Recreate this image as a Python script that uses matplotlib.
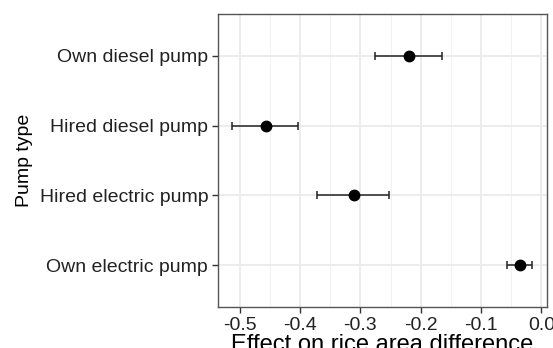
import numpy as np
import matplotlib.pyplot as plt
from matplotlib.ticker import MultipleLocator

plt.rcParams['font.family'] = ['Liberation Sans', 'DejaVu Sans']

# pump types, bottom to top
pumps = ['Own electric pump', 'Hired electric pump', 'Hired diesel pump', 'Own diesel pump']
effect = [-0.036, -0.311, -0.457, -0.220]
lower = [-0.057, -0.372, -0.512, -0.275]
upper = [-0.015, -0.253, -0.404, -0.165]

fig = plt.figure(figsize=(5.53, 3.48), dpi=100)
ax = fig.add_axes([0.394, 0.118, 0.595, 0.842])

ypos = np.arange(len(pumps))
eff = np.array(effect)
err = [eff - np.array(lower), np.array(upper) - eff]

ax.errorbar(eff, ypos, xerr=err, fmt='o', color='black', ecolor='#222222',
            elinewidth=1.1, capsize=2.7, capthick=1.1, markersize=7.5, zorder=3)

ax.set_xlim(-0.536, 0.009)
ax.set_ylim(-0.6, 3.6)
ax.xaxis.set_minor_locator(MultipleLocator(0.05))
ax.set_xticks(np.arange(-0.5, 0.01, 0.1))
ax.set_xticklabels(['-0.5', '-0.4', '-0.3', '-0.2', '-0.1', '0.0'])
ax.set_yticks(ypos)
ax.set_yticklabels(pumps)

ax.grid(which='major', color='#ebebeb', linewidth=1.3, zorder=0)
ax.grid(which='minor', axis='x', color='#f2f2f2', linewidth=0.8, zorder=0)
ax.set_axisbelow(True)
ax.tick_params(which='major', length=4, width=1, color='#333333',
               labelsize=14, labelcolor='#222222', pad=3)
ax.tick_params(which='minor', length=0)
for s in ax.spines.values():
    s.set_color('#555555')
    s.set_linewidth(1)

ax.set_ylabel('Pump type', fontsize=14, color='black')
ax.yaxis.set_label_coords(-0.562, 0.5)
ax.set_xlabel('Effect on rice area difference', fontsize=17, color='black')
ax.xaxis.set_label_coords(0.5, -0.092)

fig.savefig('out.png', dpi=100)
